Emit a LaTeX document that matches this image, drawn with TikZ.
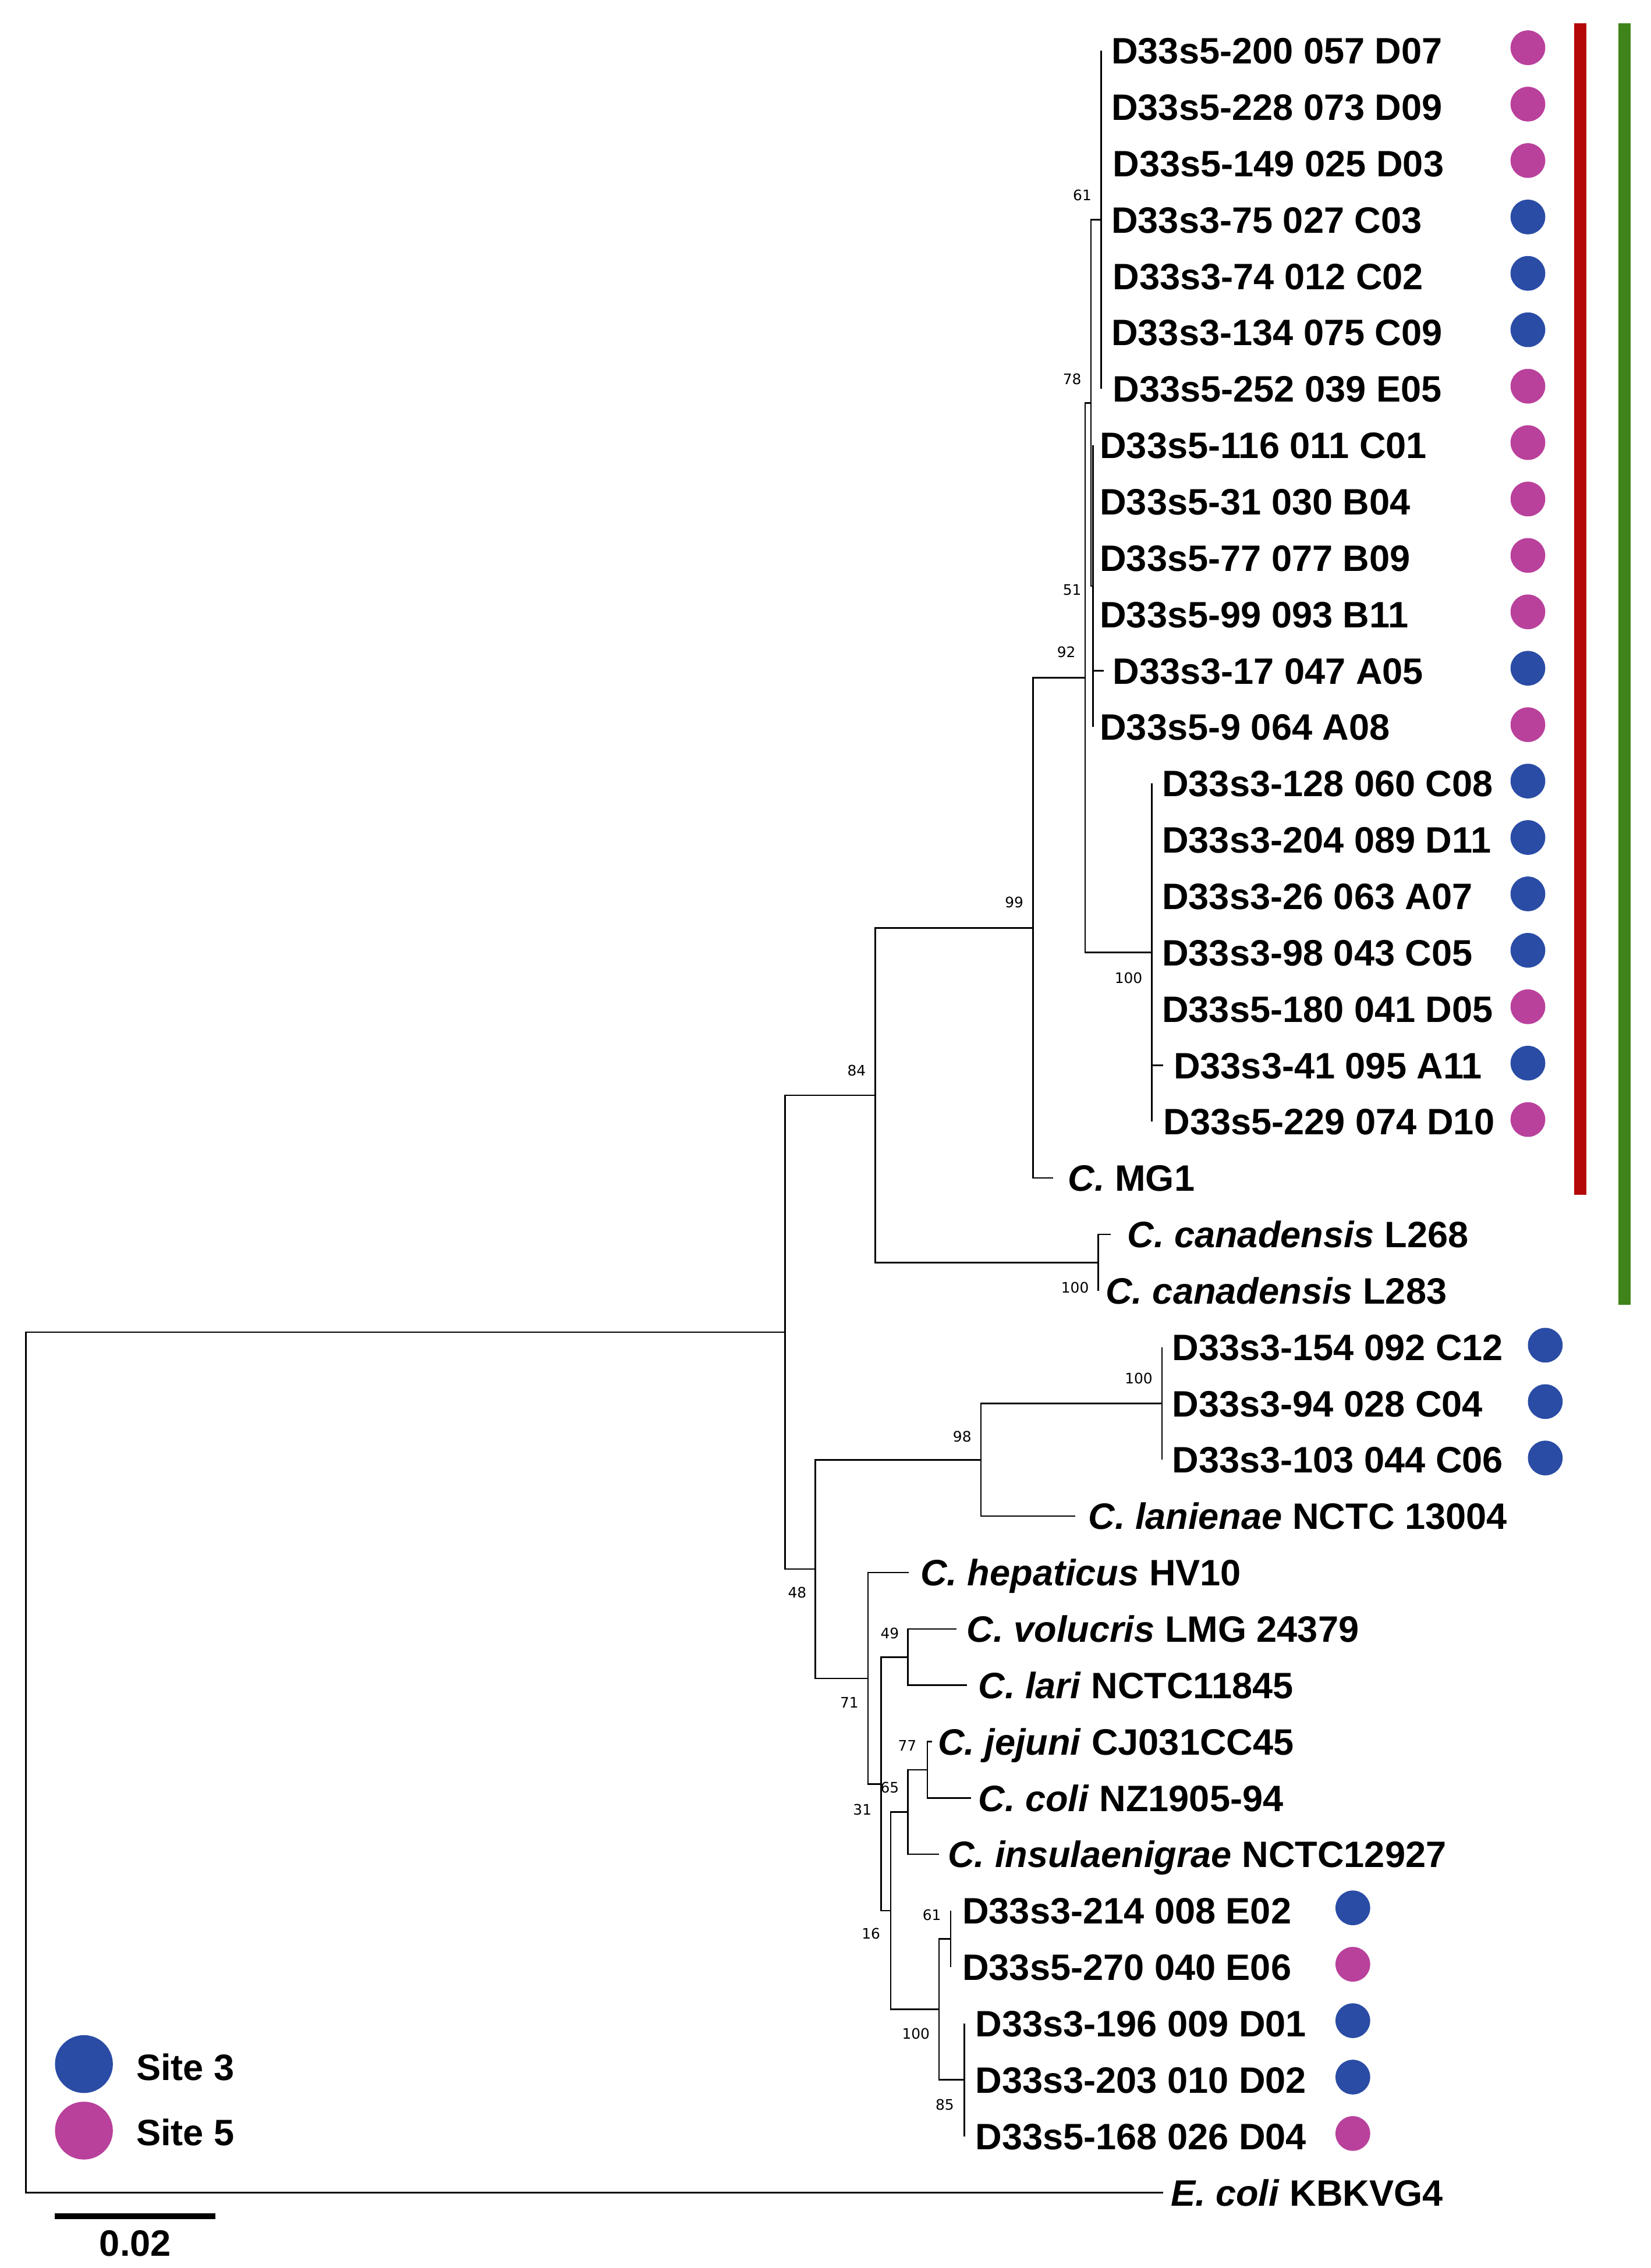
\documentclass[tikz,border=0pt]{standalone}
\usepackage{fontspec}
\setmainfont{Liberation Sans}
\newfontfamily\bsfont{DejaVu Sans}
\usepackage{xcolor}
\usetikzlibrary{positioning}
\definecolor{sitethree}{RGB}{42,76,165}
\definecolor{sitefive}{RGB}{185,65,155}
\definecolor{cladered}{RGB}{180,8,8}
\definecolor{cladegreen}{RGB}{62,132,26}

\begin{document}
\begin{tikzpicture}[x=1pt, y=-1pt,
				branch/.style={line width=1pt, black},
				leaf/.style={anchor=base west, yshift=-9.1pt, inner sep=0pt, font=\fontsize{25.4}{30}\selectfont\bfseries},
				boot/.style={inner sep=0pt, font=\bsfont\fontsize{10}{12}\selectfont},
				sthree/.style={circle, fill=sitethree, minimum size=24pt, inner sep=0pt},
				sfive/.style={circle, fill=sitefive, minimum size=24pt, inner sep=0pt}]
				\useasboundingbox (0,0) rectangle (1141,1568);
				% leaf tips
				\coordinate (t1) at (761,35.0);
				\coordinate (t2) at (761,74.0);
				\coordinate (t3) at (761,112.9);
				\coordinate (t4) at (761,151.9);
				\coordinate (t5) at (761,190.9);
				\coordinate (t6) at (761,229.9);
				\coordinate (t7) at (761,268.8);
				\coordinate (t8) at (755.5,307.8);
				\coordinate (t9) at (755.5,346.8);
				\coordinate (t10) at (755.5,385.7);
				\coordinate (t11) at (755.5,424.7);
				\coordinate (t12) at (763,463.7);
				\coordinate (t13) at (755.5,502.6);
				\coordinate (t14) at (796,541.6);
				\coordinate (t15) at (796,580.6);
				\coordinate (t16) at (796,619.6);
				\coordinate (t17) at (796,658.5);
				\coordinate (t18) at (796,697.5);
				\coordinate (t19) at (804,736.5);
				\coordinate (t20) at (796,775.4);
				\coordinate (t21) at (728,814.4);
				\coordinate (t22) at (767.5,853.4);
				\coordinate (t23) at (759,892.3);
				\coordinate (t24) at (803,931.3);
				\coordinate (t25) at (803,970.3);
				\coordinate (t26) at (803,1009.2);
				\coordinate (t27) at (743,1048.2);
				\coordinate (t28) at (628,1087.2);
				\coordinate (t29) at (661,1126.2);
				\coordinate (t30) at (668.5,1165.1);
				\coordinate (t31) at (644,1204.1);
				\coordinate (t32) at (671,1243.1);
				\coordinate (t33) at (649,1282.0);
				\coordinate (t34) at (657,1321.0);
				\coordinate (t35) at (657,1360.0);
				\coordinate (t36) at (666.5,1398.9);
				\coordinate (t37) at (666.5,1437.9);
				\coordinate (t38) at (666.5,1476.9);
				\coordinate (t39) at (804,1515.9);
				% inner nodes
				\coordinate (n61) at (761,151.9);
				\coordinate (n51) at (755.5,405.2);
				\coordinate (n78) at (754,278.6);
				\coordinate (n100a) at (796,658.5);
				\coordinate (n92) at (750,468.6);
				\coordinate (n99) at (714,641.5);
				\coordinate (ncan) at (759,872.9);
				\coordinate (n84) at (605,757.2);
				\coordinate (n100b) at (803,970.3);
				\coordinate (n98) at (678,1009.3);
				\coordinate (n77) at (641,1223.6);
				\coordinate (n65) at (627.5,1252.8);
				\coordinate (n61b) at (657,1340.5);
				\coordinate (n85) at (666.5,1437.9);
				\coordinate (n100c) at (649,1389.2);
				\coordinate (n16) at (615.5,1321.0);
				\coordinate (n49) at (627.5,1145.7);
				\coordinate (n31) at (609,1233.4);
				\coordinate (n71) at (600,1160.3);
				\coordinate (n48) at (563.5,1084.8);
				\coordinate (nA) at (542.5,921.0);
				\coordinate (root) at (18,1218.5);
				% branches
				\draw[branch] (n61) |- (t1) (n61) |- (t2) (n61) |- (t3) (n61) |- (t4) (n61) |- (t5) (n61) |- (t6) (n61) |- (t7);
				\draw[branch] (n51) |- (t8) (n51) |- (t9) (n51) |- (t10) (n51) |- (t11) (n51) |- (t12) (n51) |- (t13);
				\draw[branch] (n78) |- (n61) (n78) |- (n51);
				\draw[branch] (n100a) |- (t14) (n100a) |- (t15) (n100a) |- (t16) (n100a) |- (t17) (n100a) |- (t18) (n100a) |- (t19) (n100a) |- (t20);
				\draw[branch] (n92) |- (n78) (n92) |- (n100a);
				\draw[branch] (n99) |- (n92) (n99) |- (t21);
				\draw[branch] (ncan) |- (t22) (ncan) |- (t23);
				\draw[branch] (n84) |- (n99) (n84) |- (ncan);
				\draw[branch] (n100b) |- (t24) (n100b) |- (t25) (n100b) |- (t26);
				\draw[branch] (n98) |- (n100b) (n98) |- (t27);
				\draw[branch] (n77) |- (t31) (n77) |- (t32);
				\draw[branch] (n65) |- (n77) (n65) |- (t33);
				\draw[branch] (n61b) |- (t34) (n61b) |- (t35);
				\draw[branch] (n85) |- (t36) (n85) |- (t37) (n85) |- (t38);
				\draw[branch] (n100c) |- (n61b) (n100c) |- (n85);
				\draw[branch] (n16) |- (n65) (n16) |- (n100c);
				\draw[branch] (n49) |- (t29) (n49) |- (t30);
				\draw[branch] (n31) |- (n49) (n31) |- (n16);
				\draw[branch] (n71) |- (t28) (n71) |- (n31);
				\draw[branch] (n48) |- (n98) (n48) |- (n71);
				\draw[branch] (nA) |- (n84) (nA) |- (n48);
				\draw[branch] (root) |- (nA) (root) |- (t39);
				% bootstrap values
				\node at (748,135) (b61) [boot] {61};
				\node at (741,262) (b78) [boot] {78};
				\node at (741,408) (b51) [boot] {51};
				\node at (737,451) (b92) [boot] {92};
				\node at (701,624) (b99) [boot] {99};
				\node at (780,676) (b100a) [boot] {100};
				\node at (592,740) (b84) [boot] {84};
				\node at (743,890) (bcan) [boot] {100};
				\node at (787,953) (b100b) [boot] {100};
				\node at (665,993) (b98) [boot] {98};
				\node at (551,1101) (b48) [boot] {48};
				\node at (615,1129) (b49) [boot] {49};
				\node at (587,1177) (b71) [boot] {71};
				\node at (627,1207) (b77) [boot] {77};
				\node at (615,1236) (b65) [boot] {65};
				\node at (596,1251) (b31) [boot] {31};
				\node at (644,1324) (b61b) [boot] {61};
				\node at (602,1337) (b16) [boot] {16};
				\node at (633,1406) (b100c) [boot] {100};
				\node at (653,1455) (b85) [boot] {85};
				% taxa
				\node at (768,35.0) (l1) [leaf] {D33s5-200 057 D07};
				\node at (768,74.0) (l2) [leaf] {D33s5-228 073 D09};
				\node at (769,112.9) (l3) [leaf] {D33s5-149 025 D03};
				\node at (768,151.9) (l4) [leaf] {D33s3-75 027 C03};
				\node at (769,190.9) (l5) [leaf] {D33s3-74 012 C02};
				\node at (768,229.9) (l6) [leaf] {D33s3-134 075 C09};
				\node at (769,268.8) (l7) [leaf] {D33s5-252 039 E05};
				\node at (760,307.8) (l8) [leaf] {D33s5-116 011 C01};
				\node at (760,346.8) (l9) [leaf] {D33s5-31 030 B04};
				\node at (760,385.7) (l10) [leaf] {D33s5-77 077 B09};
				\node at (760,424.7) (l11) [leaf] {D33s5-99 093 B11};
				\node at (769,463.7) (l12) [leaf] {D33s3-17 047 A05};
				\node at (760,502.6) (l13) [leaf] {D33s5-9 064 A08};
				\node at (803,541.6) (l14) [leaf] {D33s3-128 060 C08};
				\node at (803,580.6) (l15) [leaf] {D33s3-204 089 D11};
				\node at (803,619.6) (l16) [leaf] {D33s3-26 063 A07};
				\node at (803,658.5) (l17) [leaf] {D33s3-98 043 C05};
				\node at (803,697.5) (l18) [leaf] {D33s5-180 041 D05};
				\node at (811,736.5) (l19) [leaf] {D33s3-41 095 A11};
				\node at (804,775.4) (l20) [leaf] {D33s5-229 074 D10};
				\node at (738,814.4) (l21) [leaf] {\textit{C.} MG1};
				\node at (779,853.4) (l22) [leaf] {\textit{C. canadensis} L268};
				\node at (764,892.3) (l23) [leaf] {\textit{C. canadensis} L283};
				\node at (810,931.3) (l24) [leaf] {D33s3-154 092 C12};
				\node at (810,970.3) (l25) [leaf] {D33s3-94 028 C04};
				\node at (810,1009.2) (l26) [leaf] {D33s3-103 044 C06};
				\node at (752,1048.2) (l27) [leaf] {\textit{C. lanienae} NCTC 13004};
				\node at (636,1087.2) (l28) [leaf] {\textit{C. hepaticus} HV10};
				\node at (668,1126.2) (l29) [leaf] {\textit{C. volucris} LMG 24379};
				\node at (676,1165.1) (l30) [leaf] {\textit{C. lari} NCTC11845};
				\node at (648,1204.1) (l31) [leaf] {\textit{C. jejuni} CJ031CC45};
				\node at (676,1243.1) (l32) [leaf] {\textit{C. coli} NZ1905-94};
				\node at (655,1282.0) (l33) [leaf] {\textit{C. insulaenigrae} NCTC12927};
				\node at (665,1321.0) (l34) [leaf] {D33s3-214 008 E02};
				\node at (665,1360.0) (l35) [leaf] {D33s5-270 040 E06};
				\node at (674,1398.9) (l36) [leaf] {D33s3-196 009 D01};
				\node at (674,1437.9) (l37) [leaf] {D33s3-203 010 D02};
				\node at (674,1476.9) (l38) [leaf] {D33s5-168 026 D04};
				\node at (809,1515.9) (l39) [leaf] {\textit{E. coli} KBKVG4};
				% sites
				\node at (1056,33) (d1) [sfive] {};
				\node at (1056,72) (d2) [sfive] {};
				\node at (1056,111) (d3) [sfive] {};
				\node at (1056,150) (d4) [sthree] {};
				\node at (1056,189) (d5) [sthree] {};
				\node at (1056,228) (d6) [sthree] {};
				\node at (1056,267) (d7) [sfive] {};
				\node at (1056,306) (d8) [sfive] {};
				\node at (1056,345) (d9) [sfive] {};
				\node at (1056,384) (d10) [sfive] {};
				\node at (1056,423) (d11) [sfive] {};
				\node at (1056,462) (d12) [sthree] {};
				\node at (1056,501) (d13) [sfive] {};
				\node at (1056,540) (d14) [sthree] {};
				\node at (1056,579) (d15) [sthree] {};
				\node at (1056,618) (d16) [sthree] {};
				\node at (1056,657) (d17) [sthree] {};
				\node at (1056,696) (d18) [sfive] {};
				\node at (1056,735) (d19) [sthree] {};
				\node at (1056,774) (d20) [sfive] {};
				\node at (1068,930) (d24) [sthree] {};
				\node at (1068,969) (d25) [sthree] {};
				\node at (1068,1008) (d26) [sthree] {};
				\node at (935,1319) (d34) [sthree] {};
				\node at (935,1358) (d35) [sfive] {};
				\node at (935,1397) (d36) [sthree] {};
				\node at (935,1436) (d37) [sthree] {};
				\node at (935,1475) (d38) [sfive] {};
				% clade bars
				\fill[cladered] (1088,16) rectangle (1096.5,826);
				\fill[cladegreen] (1118.5,16) rectangle (1127,902);
				% key and scale
				\node at (58,1427) (key3) [sthree, minimum size=40pt] {};
				\node at (58,1473) (key5) [sfive, minimum size=40pt] {};
				\node at (94,1429) (key3txt) [leaf] {Site 3};
				\node at (94,1474) (key5txt) [leaf] {Site 5};
				\coordinate (sbl) at (38,1532);
				\coordinate (sbr) at (149,1532);
				\draw[line width=4pt] (sbl) -- (sbr);
				\node at (93.5,1551) (sbtxt) [inner sep=0pt, font=\fontsize{25.4}{30}\selectfont\bfseries] {0.02};
			\end{tikzpicture}
\end{document}
